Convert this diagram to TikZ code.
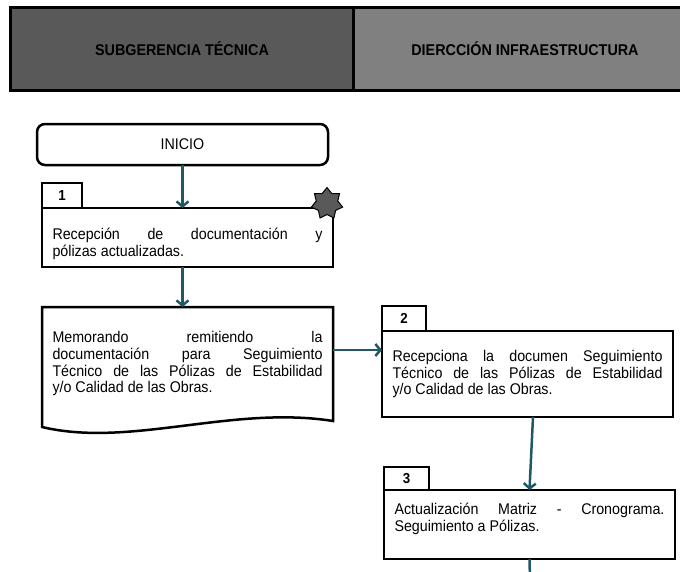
\documentclass[tikz,border=0pt]{standalone}
\usepackage{fontspec}
\setmainfont{Liberation Sans}[FakeStretch=0.92]
\usetikzlibrary{arrows.meta,shapes.geometric}
\definecolor{flecha}{RGB}{33,88,104}
\definecolor{grisoscuro}{RGB}{89,89,89}
\definecolor{grismedio}{RGB}{128,128,128}
\tikzset{
  encabezado/.style={draw, line width=3pt, minimum height=82.3pt, inner sep=0pt, outer sep=0pt,
    font=\bfseries\fontsize{15.6}{17}\selectfont},
  inicio/.style={draw, line width=2.5pt, rounded corners=8pt, minimum width=291pt, minimum height=41pt,
    inner sep=0pt, outer sep=0pt, font=\fontsize{15.5}{16.7}\selectfont},
  paso/.style={draw, line width=2.5pt, minimum width=291pt, text width=270pt, align=justify,
    inner sep=0pt, outer sep=0pt, font=\fontsize{15.5}{16.7}\selectfont},
  pestana/.style={draw, fill=white, line width=2.5pt, minimum width=42pt, minimum height=25pt,
    inner sep=0pt, outer sep=0pt, anchor=south west, font=\bfseries\fontsize{14.5}{16}\selectfont},
  flujo/.style={draw=flecha, line width=2.5pt},
}
\begin{document}
\begin{tikzpicture}[x=1pt, y=-1pt, >={Straight Barb[length=5pt,width=12pt]}]
	\useasboundingbox (0,0) rectangle (680,571);
	% encabezado de carriles
	\node[encabezado, fill=grisoscuro, minimum width=342.5pt] (subgerencia) at (182,48.85) {SUBGERENCIA TÉCNICA};
	\node[encabezado, fill=grismedio, minimum width=344pt] (direccion) at (525,48.85) {DIERCCIÓN INFRAESTRUCTURA};

	\node[inicio] (inicio) at (182.5,144.5) {INICIO};

	\node[paso, minimum height=59pt] (p1) at (187.5,237.5) {\rule{0pt}{24pt}Recepción de documentación y\linebreak pólizas actualizadas.};
	\node[pestana, minimum width=40pt] (t1) at (p1.north west) {1};
	\node[star, star points=7, star point ratio=1.45, minimum size=32pt, inner sep=0pt,
		fill=grisoscuro, draw, line width=1pt] (estrella) at (327,203.5) {};

	\node[paso, draw=none, minimum height=120pt] (memo) at (187.5,367) {Memorando remitiendo la\linebreak documentación para Seguimiento\linebreak Técnico de las Pólizas de Estabilidad\linebreak y/o Calidad de las Obras.\rule[-9.5pt]{0pt}{0pt}};
	\draw[line width=2.5pt] (memo.south west) -- (memo.north west) -- (memo.north east)
		-- ([yshift=6pt]memo.south east) .. controls (232,405) and (130,448) .. (memo.south west) -- cycle;

	\node[paso, minimum height=86pt] (p2) at (527.5,374) {Recepciona la documen Seguimiento\linebreak Técnico de las Pólizas de Estabilidad\linebreak y/o Calidad de las Obras.};
	\node[pestana, minimum width=44pt] (t2) at (p2.north west) {2};

	\node[paso, minimum height=69pt] (p3) at (529.5,524.5) {Actualización Matriz - Cronograma.\linebreak Seguimiento a Pólizas.\rule[-14pt]{0pt}{0pt}};
	\node[pestana, minimum width=45pt, minimum height=23pt] (t3) at (p3.north west) {3};
	\coordinate (salida) at (530,580);

	% conectores
	\draw[flujo, ->] (inicio.south) -- (inicio.south |- p1.north);
	\draw[flujo, ->] (p1.south -| inicio.south) -- (memo.north -| inicio.south);
	\draw[flujo, ->] ([yshift=17pt]memo.east) -- ([yshift=17pt]memo.east -| p2.west);
	\draw[flujo, ->] ([xshift=5.5pt]p2.south) -- (p3.north);
	\draw[flujo] (p3.south) -- (salida);
\end{tikzpicture}
\end{document}
